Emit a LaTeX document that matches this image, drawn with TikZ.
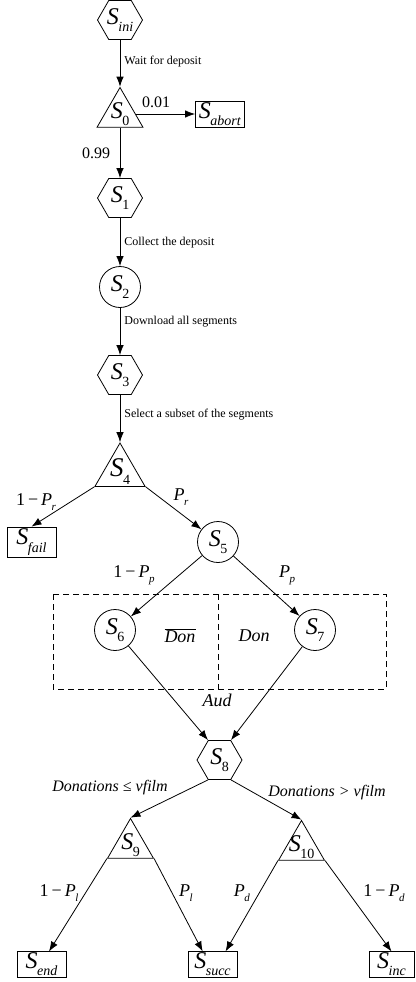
\documentclass[tikz,border=0pt]{standalone}
\usepackage{fontspec}
\setmainfont{Liberation Serif}
\usetikzlibrary{shapes.geometric,arrows.meta,calc}
\newcommand\Sn[1]{\textit{S}\kern-0.5pt\raisebox{-0.3em}{\fontsize{14}{14}\selectfont #1}}
\newcommand\Pv[1]{\textit{P}\kern-0.5pt\raisebox{-0.3em}{\fontsize{11}{11}\selectfont\textit{#1}}}
\tikzset{
  x=1pt,y=-1pt,
  every path/.style={line width=0.8pt},
  lab/.style={inner sep=0pt,font=\fontsize{24}{24}\selectfont},
  hexa/.style={regular polygon,regular polygon sides=6,minimum size=45pt,draw,inner sep=0pt},
  tri/.style={regular polygon,regular polygon sides=3,minimum size=53pt,draw,inner sep=0pt},
  circ/.style={circle,minimum size=41pt,draw,inner sep=0pt},
  sbox/.style={rectangle,draw,minimum width=49pt,minimum height=26pt,inner sep=1pt,font=\fontsize{24}{24}\selectfont},
  arr/.style={-{Latex[length=10pt,width=7.5pt]}},
  small/.style={font=\fontsize{12}{12}\selectfont,inner sep=0pt},
  num/.style={font=\fontsize{16}{16}\selectfont,inner sep=0pt},
  prob/.style={font=\fontsize{18}{18}\selectfont,inner sep=0pt},
  cond/.style={font=\fontsize{16}{16}\selectfont\itshape,inner sep=0pt},
  itl/.style={font=\fontsize{18}{18}\selectfont\itshape,inner sep=0pt},
}
\begin{document}
\begin{tikzpicture}
\useasboundingbox (0,0) rectangle (415,982);
% nodes
\node[hexa,label={[lab]center:\Sn{\textit{ini}}}] (sini) at (120,20) {};
\node[tri,label={[lab]center:\Sn{0}}] (s0) at (120,114) {};
\node[sbox] (sabort) at (220,114) {\Sn{\textit{abort}}};
\node[hexa,label={[lab]center:\Sn{1}}] (s1) at (120,198) {};
\node[circ,label={[lab]center:\Sn{2}}] (s2) at (120,287) {};
\node[hexa,label={[lab]center:\Sn{3}}] (s3) at (120,375) {};
\node[tri,minimum size=58pt,label={[lab,font=\fontsize{27}{27}\selectfont]center:\Sn{4}}] (s4) at (120,472) {};
\node[sbox,minimum height=30pt] (sfail) at (31.5,542) {\Sn{\textit{fail}}};
\node[circ,label={[lab]center:\Sn{5}}] (s5) at (218,542) {};
\node[circ,label={[lab]center:\Sn{6}}] (s6) at (115,630) {};
\node[circ,label={[lab]center:\Sn{7}}] (s7) at (315,630) {};
\node[hexa,label={[lab]center:\Sn{8}}] (s8) at (219.5,760) {};
\node[tri,label={[lab]center:\Sn{9}}] (s9) at (130.5,845) {};
\node[tri,label={[lab]center:\Sn{10}}] (s10) at (301.5,847) {};
\node[sbox,minimum height=25pt] (send) at (41.5,964.5) {\Sn{\textit{end}}};
\node[sbox,minimum height=25pt] (ssucc) at (212.5,964.5) {\Sn{\textit{succ}}};
\node[sbox,minimum height=25pt,minimum width=45pt] (sinc) at (391.5,964.5) {\Sn{\textit{inc}}};
% dashed region
\draw[dash pattern=on 6pt off 4pt] (53,594) rectangle (386,689);
\draw[dash pattern=on 6pt off 4pt] (218,594) -- (218,689);
\node[itl] (ndon) at (180,636) {$\overline{\mbox{\itshape Don}}$};
\node[itl] (don) at (254,636) {Don};
\node[itl] (aud) at (217,700) {Aud};
% connectors
\draw[arr] (sini) -- (s0);
\draw[arr] (s0) -- (sabort);
\draw[arr] (s0) -- (s1);
\draw[arr] (s1) -- (s2);
\draw[arr] (s2) -- (s3);
\draw[arr] (s3) -- (s4);
\draw[arr] (s4.210) -- (sfail.north);
\draw[arr] (s4.330) -- (s5);
\draw[arr] (s5) -- (s6);
\draw[arr] (s5) -- (s7);
\draw[arr] (s6) -- (s8.120);
\draw[arr] (s7) -- (s8.60);
\draw[arr] (s8.240) -- (s9.north);
\draw[arr] (s8.300) -- (s10.north);
\draw[arr] (s9.210) -- (send.60);
\draw[arr] (s9.330) -- (ssucc.127);
\draw[arr] (s10.210) -- (ssucc.45);
\draw[arr] (s10.330) -- (sinc.north);
% labels
\node[small,anchor=west] (l1) at (124,62) {Wait for deposit};
\node[num] (l2) at (156,102) {0.01};
\node[num] (l3) at (96,153) {0.99};
\node[small,anchor=west] (l4) at (124,243) {Collect the deposit};
\node[small,anchor=west] (l5) at (124,322) {Download all segments};
\node[small,anchor=west] (l6) at (124,415) {Select a subset of the segments};
\node[prob] (l7) at (36,502) {1\,−\,\Pv{r}};
\node[prob] (l8) at (181,497) {\Pv{r}};
\node[prob] (l9) at (134,575) {1\,−\,\Pv{p}};
\node[prob] (l10) at (287,575) {\Pv{p}};
\node[cond] (l11) at (110,788) {Donations ≤ vfilm};
\node[cond] (l12) at (327,793) {Donations > vfilm};
\node[prob] (l13) at (59,893) {1\,−\,\Pv{l}};
\node[prob] (l14) at (186,893) {\Pv{l}};
\node[prob] (l15) at (242,893) {\Pv{d}};
\node[prob] (l16) at (384,893) {1\,−\,\Pv{d}};
\end{tikzpicture}
\end{document}
